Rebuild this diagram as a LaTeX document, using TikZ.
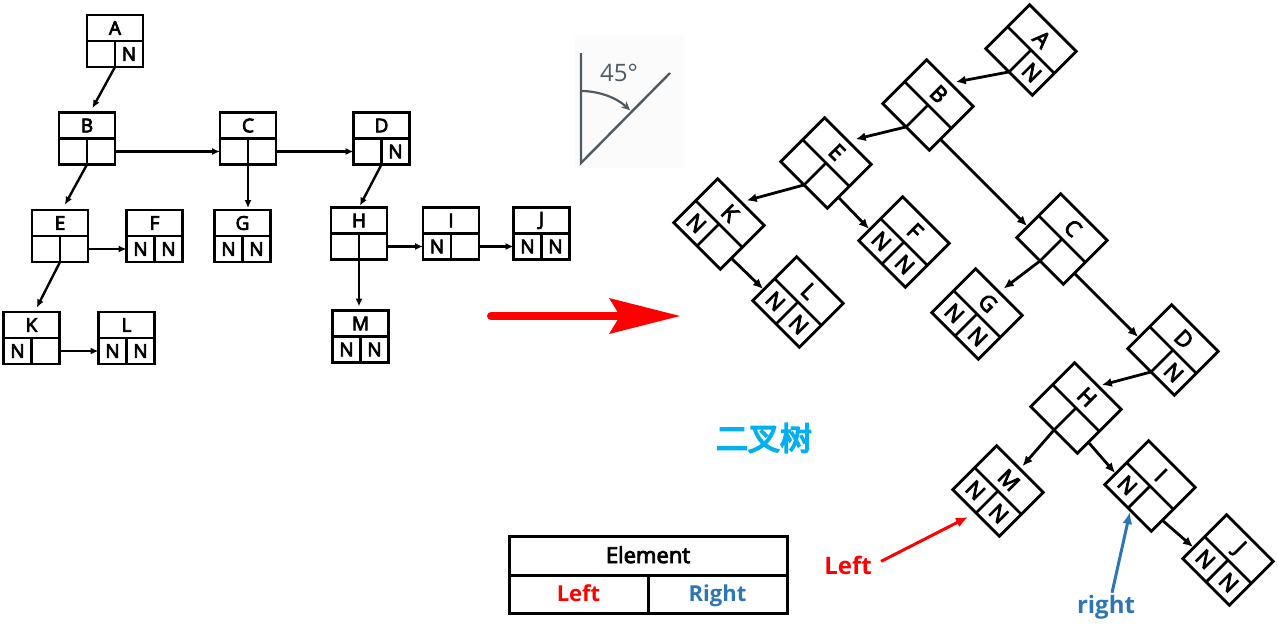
\documentclass[tikz,border=0pt]{standalone}
\usepackage{fontspec}
\setmainfont{Open Sans}
\newfontfamily\cjk[FakeBold=5]{Noto Sans CJK SC}
\newfontfamily\semib[FakeBold=4]{Open Sans}
\newfontfamily\boxf[FakeBold=4]{Open Sans}
\usetikzlibrary{arrows.meta,calc}

\definecolor{cred}{HTML}{FF0000}
\definecolor{cblue}{HTML}{2E75B6}
\definecolor{ccyan}{HTML}{00B0F0}
\definecolor{iconc}{HTML}{4F5A63}

\tikzset{
  lbox/.style={draw, line width=2.5pt, minimum width=56pt, minimum height=52pt, inner sep=0pt, outer sep=0pt},
  rbox/.style={draw, line width=2.8pt, minimum width=66pt, minimum height=62pt, inner sep=0pt, outer sep=0pt},
  lboxin/.style={line width=2.5pt},
  rboxin/.style={line width=2.8pt},
  lboxtxt/.style={font=\boxf\fontsize{19}{19}\selectfont, inner sep=0pt},
  rboxtxt/.style={font=\boxf\fontsize{22}{22}\selectfont, inner sep=0pt},
  lconn/.style={line width=2.4pt, -{Latex[length=8pt,width=7pt]}},
  rconn/.style={line width=2.8pt, -{Latex[length=10pt,width=9pt]}},
  tcell/.style={draw, line width=3pt, inner sep=0pt, outer sep=0pt, text height=17pt, text depth=2pt},
}

% #1 name, #2 x, #3 y, #4 rotation, #5 style prefix (lbox/rbox), #6 letter, #7 left cell, #8 right cell
\newcommand\dsbox[8]{%
  \node[#5, rotate=#4] (#1) at (#2,#3) {};
  \draw[#5in] (#1.west) -- (#1.east) (#1.center) -- (#1.south);
  \node[#5txt, rotate=#4] at ($(#1.center)!0.5!(#1.north)$) {#6};
  \node[#5txt, rotate=#4] at ($(#1.center)!0.5!(#1.south west)$) {#7};
  \node[#5txt, rotate=#4] at ($(#1.center)!0.5!(#1.south east)$) {#8};
  \coordinate (#1-r) at ($(#1.east)!0.5!(#1.south east)$);
  \coordinate (#1-l) at ($(#1.west)!0.5!(#1.south west)$);
}

\begin{document}
\begin{tikzpicture}[x=1pt,y=-1pt]
\path[use as bounding box] (0,0) rectangle (1278,625);

% ---------- left structure ----------
\dsbox{A}{115}{41}{0}{lbox}{A}{}{N}
\dsbox{B}{87}{138.5}{0}{lbox}{B}{}{}
\dsbox{C}{248}{138.5}{0}{lbox}{C}{}{}
\dsbox{D}{381.5}{138.5}{0}{lbox}{D}{}{N}
\dsbox{E}{60}{236}{0}{lbox}{E}{}{}
\dsbox{F}{154.5}{236}{0}{lbox}{F}{N}{N}
\dsbox{G}{242.5}{236}{0}{lbox}{G}{N}{N}
\dsbox{H}{359}{233.5}{0}{lbox}{H}{}{}
\dsbox{I}{451}{233.5}{0}{lbox}{I}{N}{}
\dsbox{J}{541.5}{233.5}{0}{lbox}{J}{N}{N}
\dsbox{K}{31.5}{338}{0}{lbox}{K}{N}{}
\dsbox{L}{126.5}{338}{0}{lbox}{L}{N}{N}
\dsbox{M}{360.5}{336.5}{0}{lbox}{M}{N}{N}

\draw[lconn, shorten >=5pt] (A.south) -- ([xshift=3pt]B.north);
\draw[lconn] (B-r) -- (C-l);
\draw[lconn] (C-r) -- (D-l);
\draw[lconn, shorten >=6pt] (B.south) -- ([xshift=2pt]E.north);
\draw[lconn, shorten >=2pt] (C.south) -- (C.south |- G.north);
\draw[lconn, shorten >=2pt] (D.south) -- (H.north);
\draw[lconn] (E-r) -- (F-l);
\draw[lconn, shorten >=5pt] (E.south) -- ([xshift=3pt]K.north);
\draw[lconn] (K-r) -- (L-l);
\draw[lconn] (H-r) -- (I-l);
\draw[lconn] (I-r) -- (J-l);
\draw[lconn, shorten >=4pt] (H.south) -- (H.south |- M.north);

% ---------- 45 degree icon ----------
\fill[black!1.5] (575,35) rectangle (685,168);
\coordinate (icTop) at (581,53);
\coordinate (icO) at (581,163);
\coordinate (icD) at (670,73);
\draw[iconc, line width=2.4pt] (icTop) -- (icO) -- (icD);
\draw[iconc, line width=2.2pt, -{Stealth[length=9pt,width=8pt]}] (icO) ++(0,-72) arc[start angle=-90, end angle=-47, radius=72];
\node[iconc, font=\fontsize{24}{24}\selectfont, inner sep=0pt] (deg) at (619,73) {45°};

% ---------- big red arrow ----------
\coordinate (ba1) at (491,316);
\coordinate (ba2) at (620,316);
\coordinate (baT) at (680,316);
\draw[cred, line width=8pt, line cap=round] (ba1) -- (ba2);
\fill[cred] (baT) -- (609,298) -- (ba2) -- (609,334) -- cycle;

% ---------- right (rotated) tree ----------
\dsbox{rA}{1031}{50}{-45}{rbox}{A}{}{N}
\dsbox{rB}{928}{105}{-45}{rbox}{B}{}{}
\dsbox{rC}{1062}{239}{-45}{rbox}{C}{}{}
\dsbox{rD}{1173}{350}{-45}{rbox}{D}{}{N}
\dsbox{rE}{826}{163}{-45}{rbox}{E}{}{}
\dsbox{rF}{904}{242}{-45}{rbox}{F}{N}{N}
\dsbox{rG}{977}{314}{-45}{rbox}{G}{N}{N}
\dsbox{rH}{1076}{408}{-45}{rbox}{H}{}{}
\dsbox{rI}{1150}{486}{-45}{rbox}{I}{N}{}
\dsbox{rJ}{1228}{560}{-45}{rbox}{J}{N}{N}
\dsbox{rK}{719}{224}{-45}{rbox}{K}{N}{}
\dsbox{rL}{798}{302}{-45}{rbox}{L}{N}{N}
\dsbox{rM}{998}{491}{-45}{rbox}{M}{N}{N}

\draw[rconn, shorten >=6pt] (rA.south) -- (rB.north);
\draw[rconn, shorten >=8pt] (rB.south) -- (rE.north);
\draw[rconn, shorten >=1pt] (rB-r) -- (rC-l);
\draw[rconn, shorten >=6pt] (rE.south) -- (rK.north);
\draw[rconn, shorten >=1pt] (rE-r) -- (rF-l);
\draw[rconn, shorten >=1pt] (rK-r) -- (rL-l);
\draw[rconn, shorten >=6pt] (rC.south) -- (rG.north);
\draw[rconn, shorten >=1pt] (rC-r) -- (rD-l);
\draw[rconn, shorten >=4pt] (rD.south) -- (rH.north);
\draw[rconn, shorten >=4pt] (rH.south) -- (rM.north);
\draw[rconn, shorten >=1pt] (rH-r) -- (rI-l);
\draw[rconn, shorten >=1pt] (rI-r) -- (rJ-l);

% ---------- labels ----------
\node[ccyan, font=\cjk\fontsize{32}{32}\selectfont, inner sep=0pt] (bt) at (764,438) {二叉树};

\node[cred, font=\bfseries\fontsize{24}{24}\selectfont, inner sep=2pt] (lefttxt) at (848,565) {Left};
\coordinate (lefttip) at (968,517);
\draw[cred, line width=3pt, shorten <=8pt, -{Latex[length=12pt,width=10pt]}] (lefttxt.east) -- (lefttip);

\node[cblue, font=\bfseries\fontsize{24}{24}\selectfont, inner sep=2pt] (righttxt) at (1106,607) {right};
\coordinate (righttip) at (1130,512);
\draw[cblue, line width=3pt, -{Latex[length=12pt,width=10pt]}] ([xshift=6pt]righttxt.north) -- (righttip);

% ---------- legend table ----------
\node[tcell, minimum width=278pt, minimum height=39pt, font=\semib\fontsize{22}{22}\selectfont] (tel) at (648,555.5) {Element};
\node[tcell, minimum width=139pt, minimum height=38pt, font=\bfseries\fontsize{22}{22}\selectfont, text=cred] (tleft) at (578.5,594) {Left};
\node[tcell, minimum width=139pt, minimum height=38pt, font=\bfseries\fontsize{22}{22}\selectfont, text=cblue] (tright) at (717.5,594) {Right};
\end{tikzpicture}
\end{document}
